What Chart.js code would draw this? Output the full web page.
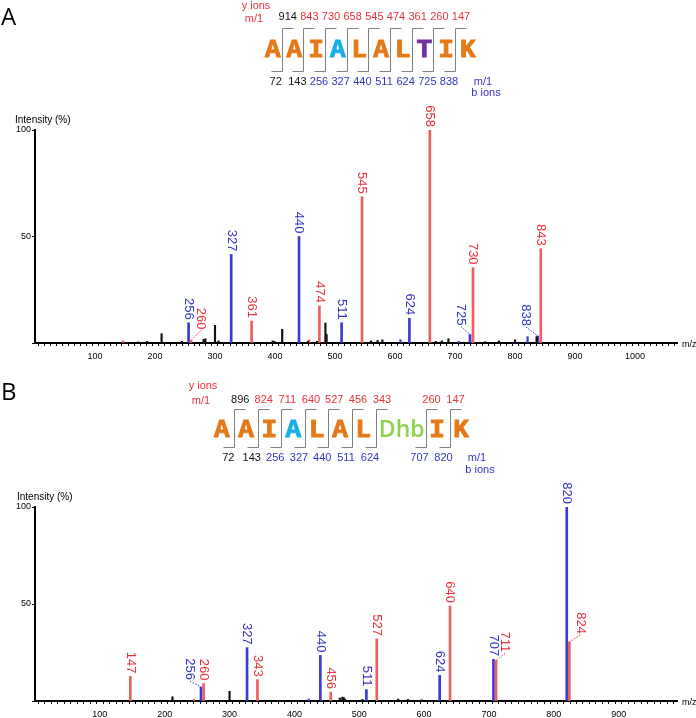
<!DOCTYPE html>
<html>
<head>
<meta charset="utf-8">
<script src="https://cdn.jsdelivr.net/npm/chart.js@4.4.1/dist/chart.umd.min.js"></script>
<style>
  html, body { margin: 0; padding: 0; background: #fff; }
  #wrap { position: relative; width: 696px; height: 718px; overflow: hidden; }
  canvas { position: absolute; left: 0; }
</style>
</head>
<body>
<div id="wrap">
  <canvas id="chartA" width="696" height="360" style="top:0"></canvas>
  <canvas id="chartB" width="696" height="358" style="top:360px"></canvas>
</div>
<script>
// ---- Panel A: AAIALALTIK ----
const seqA = ['A', 'A', 'I', 'A', 'L', 'A', 'L', 'T', 'I', 'K'];
const yLadderA = ['914', '843', '730', '658', '545', '474', '361', '260', '147'];
const bLadderA = ['72', '143', '256', '327', '440', '511', '624', '725', '838'];

const aYionMz  = [260, 361, 474, 545, 658, 730, 843];
const aYionInt = [1.2, 10.3, 17.4, 68.7, 100, 35.4, 44.3];
const aBionMz  = [256, 327, 440, 511, 624, 725, 838];
const aBionInt = [9.5, 41.6, 50, 9.5, 11.6, 4, 3.3];
const aYminorMz  = [147, 457];
const aYminorInt = [1, 1.5];
const aBminorMz  = [609, 706, 821];
const aBminorInt = [1.5, 0.8, 3];
const aOtherMz  = [172, 187, 211, 245, 281, 284, 300, 306, 396, 399, 412, 455, 470, 484, 486, 560, 571, 579, 668, 678, 689, 750, 773, 800, 836];
const aOtherInt = [0.5, 0.8, 4.4, 0.8, 1.7, 2, 8.3, 1, 1, 0.8, 6.4, 0.8, 0.8, 9.4, 4, 1, 1.2, 1.5, 0.8, 1, 2, 0.6, 1, 1.5, 3];

// ---- Panel B: AAIALAL(Dhb)IK ----
const seqB = ['A', 'A', 'I', 'A', 'L', 'A', 'L', 'Dhb', 'I', 'K'];
const yLadderB = ['896', '824', '711', '640', '527', '456', '343', '260', '147'];
const bLadderB = ['72', '143', '256', '327', '440', '511', '624', '707', '820'];

const bYionMz  = [147, 260, 343, 456, 527, 640, 711, 824];
const bYionInt = [12.7, 9, 11, 4.6, 32, 49, 21, 30.4];
const bBionMz  = [256, 327, 440, 511, 624, 707, 820];
const bBionInt = [7.2, 27.5, 23.5, 5.9, 13.2, 21.5, 100];
const bYminorMz  = [245];
const bYminorInt = [0.8];
const bBminorMz  = [422];
const bBminorInt = [1];
const bOtherMz  = [212, 300, 470, 474, 476, 478, 505, 560, 575, 596];
const bOtherInt = [2.2, 5, 1.5, 2, 1.8, 1, 0.8, 1, 0.8, 0.6];

const xTickStep = 10;
const xLabelStep = 100;

// colours
const RED_LINE = '#ec6060', RED_TEXT = '#e8323a';
const BLUE_LINE = '#3a3ad6', BLUE_TEXT = '#3434c8';
const ORANGE = '#e67817', CYAN = '#17b0ea', PURPLE = '#7030a0', GREEN = '#8fd14f';

const NARROW = '"Liberation Sans Narrow", "Liberation Sans", Arial, sans-serif';

function pts(mz, ints) {
  return mz.map((m, i) => ({ x: m, y: ints[i] }));
}

function barSet(mz, ints, color, thick) {
  return {
    data: pts(mz, ints),
    backgroundColor: color,
    borderWidth: 0,
    barThickness: thick,
    grouped: false
  };
}

function makeDeco(cfg) {
  return {
    id: 'deco' + cfg.name,
    afterDatasetsDraw(chart) {
      const ctx = chart.ctx;
      ctx.save();
      ctx.font = '13px "Liberation Sans", Arial, sans-serif';
      cfg.labelSets.forEach(ls => {
        const meta = chart.getDatasetMeta(ls.dataset);
        meta.data.forEach((el, i) => {
          const mz = ls.mz[i];
          const lead = cfg.leaders[mz];
          let lx = el.x, ly = el.y - 3;
          ctx.fillStyle = ls.color;
          ctx.strokeStyle = ls.color;
          if (lead) {
            lx = el.x + lead[0];
            ly = el.y - lead[1];
            ctx.save();
            ctx.lineWidth = 1;
            ctx.setLineDash([1.5, 1.5]);
            ctx.beginPath();
            ctx.moveTo(lx, ly + 1);
            ctx.lineTo(el.x, el.y);
            ctx.stroke();
            ctx.restore();
          }
          ctx.save();
          ctx.translate(lx, ly);
          ctx.rotate(Math.PI / 2);
          ctx.textAlign = 'right';
          ctx.textBaseline = 'middle';
          ctx.fillText(String(mz), 0, 0);
          ctx.restore();
        });
      });
      ctx.restore();
    },
    afterDraw(chart) {
      const ctx = chart.ctx;
      const h = cfg.header;
      const area = chart.chartArea;
      ctx.save();

      // panel letter
      ctx.fillStyle = '#000';
      ctx.font = '24px "Open Sans", sans-serif';
      ctx.textAlign = 'left';
      ctx.textBaseline = 'alphabetic';
      ctx.fillText(cfg.name, 1, h.panelY);

      // axis captions
      ctx.font = '10px ' + NARROW;
      ctx.textBaseline = 'middle';
      ctx.fillText('Intensity (%)', h.titleX, h.titleY);
      ctx.font = '9px ' + NARROW;
      ctx.fillText('m/z', area.right + 5, area.bottom + 2);

      // sequence letters
      ctx.textAlign = 'center';
      ctx.textBaseline = 'middle';
      h.seq.forEach((s, i) => {
        ctx.fillStyle = h.colors[i];
        ctx.strokeStyle = h.colors[i];
        if (s.length > 1) {
          ctx.font = '600 23px "Open Sans", sans-serif';
          ctx.fillText(s, h.letterX[i], h.letterY);
        } else {
          ctx.font = 'bold 26px "Liberation Mono", "Courier New", monospace';
          ctx.lineWidth = 0.9;
          ctx.fillText(s, h.letterX[i], h.letterY);
          ctx.strokeText(s, h.letterX[i], h.letterY);
        }
      });

      // fragmentation brackets
      ctx.strokeStyle = '#7f7f7f';
      ctx.lineWidth = 1;
      h.brackets.forEach(bx => {
        const x = Math.round(bx) + 0.5;
        ctx.beginPath();
        ctx.moveTo(x + h.arm, h.brTop + 0.5);
        ctx.lineTo(x, h.brTop + 0.5);
        ctx.lineTo(x, h.brBot + 0.5);
        ctx.lineTo(x - h.arm, h.brBot + 0.5);
        ctx.stroke();
      });

      // ladder numbers
      ctx.font = '11px ' + NARROW;
      h.yLadder.forEach((t, i) => {
        ctx.fillStyle = i === 0 ? '#111' : RED_TEXT;
        ctx.fillText(t, h.brackets[i] + 6, h.topY);
      });
      h.bLadder.forEach((t, i) => {
        ctx.fillStyle = i < 2 ? '#111' : BLUE_TEXT;
        ctx.fillText(t, h.brackets[i] - 6, h.botY);
      });

      ctx.fillStyle = RED_TEXT;
      ctx.fillText('y ions', h.yIonsX, h.yIonsY);
      ctx.fillText('m/1', h.yIonsX - 2, h.topY + 1.5);
      ctx.fillStyle = BLUE_TEXT;
      ctx.fillText('m/1', h.bIonsX - 3, h.botY);
      ctx.fillText('b ions', h.bIonsX, h.botY + 11.5);
      ctx.restore();
    }
  };
}

function makeChart(id, cfg) {
  const tickFont = { family: NARROW, size: 9 };
  return new Chart(document.getElementById(id), {
    type: 'bar',
    data: {
      datasets: [
        barSet(cfg.otherMz, cfg.otherInt, '#111', 1.5),
        barSet(cfg.yMinMz, cfg.yMinInt, RED_LINE, 1.5),
        barSet(cfg.bMinMz, cfg.bMinInt, BLUE_LINE, 1.5),
        barSet(cfg.yMz, cfg.yInt, RED_LINE, 2),
        barSet(cfg.bMz, cfg.bInt, BLUE_LINE, 2)
      ]
    },
    options: {
      responsive: false,
      animation: false,
      layout: { padding: { top: cfg.top, right: 19, left: 0, bottom: 0 } },
      plugins: { legend: { display: false }, tooltip: { enabled: false } },
      scales: {
        x: {
          type: 'linear',
          min: 0,
          max: cfg.xMax,
          offset: false,
          ticks: {
            stepSize: xTickStep,
            autoSkip: false,
            maxRotation: 0,
            padding: 5,
            color: '#000',
            font: tickFont,
            callback: v => (v > 0 && v % xLabelStep === 0) ? v : ''
          },
          grid: { drawOnChartArea: false, tickLength: 3, color: '#000' },
          border: { color: '#000', width: 2 },
          afterFit: s => { s.height = cfg.xAxisH; }
        },
        y: {
          min: 0,
          max: 100,
          ticks: {
            stepSize: 50,
            padding: 1,
            color: '#000',
            font: tickFont,
            callback: v => v === 0 ? '' : v
          },
          grid: { drawOnChartArea: false, tickLength: 3, color: '#000' },
          border: { color: '#000', width: 2 },
          afterFit: s => { s.width = 35; }
        }
      }
    },
    plugins: [makeDeco({
      name: cfg.name,
      header: cfg.header,
      leaders: cfg.leaders,
      labelSets: [
        { dataset: 3, mz: cfg.yMz, color: RED_TEXT },
        { dataset: 4, mz: cfg.bMz, color: BLUE_TEXT }
      ]
    })]
  });
}

const bracketsA = [0, 1, 2, 3, 4, 5, 6, 7, 8].map(i => 281.7 + 21.66 * i);

makeChart('chartA', {
  name: 'A', top: 130, xAxisH: 17, xMax: 1070,
  yMz: aYionMz, yInt: aYionInt, bMz: aBionMz, bInt: aBionInt,
  yMinMz: aYminorMz, yMinInt: aYminorInt, bMinMz: aBminorMz, bMinInt: aBminorInt,
  otherMz: aOtherMz, otherInt: aOtherInt,
  leaders: { 260: [10, 11], 725: [-9, 9], 838: [-12, 10] },
  header: {
    panelY: 25, titleX: 15, titleY: 120,
    seq: seqA,
    colors: [ORANGE, ORANGE, ORANGE, CYAN, ORANGE, ORANGE, ORANGE, PURPLE, ORANGE, ORANGE],
    letterX: [272.7, 294.3, 316, 337.7, 359.3, 381, 402.7, 424.3, 446, 467.7],
    letterY: 50,
    brackets: bracketsA, brTop: 28, brBot: 71, arm: 11,
    yLadder: yLadderA, bLadder: bLadderA,
    topY: 17, botY: 81.5,
    yIonsX: 256, yIonsY: 6,
    bIonsX: 486
  }
});

makeChart('chartB', {
  name: 'B', top: 147, xAxisH: 17, xMax: 990,
  yMz: bYionMz, yInt: bYionInt, bMz: bBionMz, bInt: bBionInt,
  yMinMz: bYminorMz, yMinInt: bYminorInt, bMinMz: bBminorMz, bMinInt: bBminorInt,
  otherMz: bOtherMz, otherInt: bOtherInt,
  leaders: { 256: [-11, 7], 711: [9, 8], 824: [11, 8] },
  header: {
    panelY: 40, titleX: 17, titleY: 137,
    seq: seqB,
    colors: [ORANGE, ORANGE, ORANGE, CYAN, ORANGE, ORANGE, ORANGE, GREEN, ORANGE, ORANGE],
    letterX: [221.7, 246, 269.3, 293.3, 316.7, 340, 363.3, 401.7, 437, 461],
    letterY: 70,
    brackets: [234.3, 257.7, 281.3, 305, 328.3, 352, 376, 425.5, 449.5],
    brTop: 49, brBot: 87, arm: 11,
    yLadder: yLadderB, bLadder: bLadderB,
    topY: 39.5, botY: 98,
    yIonsX: 203, yIonsY: 26,
    bIonsX: 480
  }
});
</script>
</body>
</html>
